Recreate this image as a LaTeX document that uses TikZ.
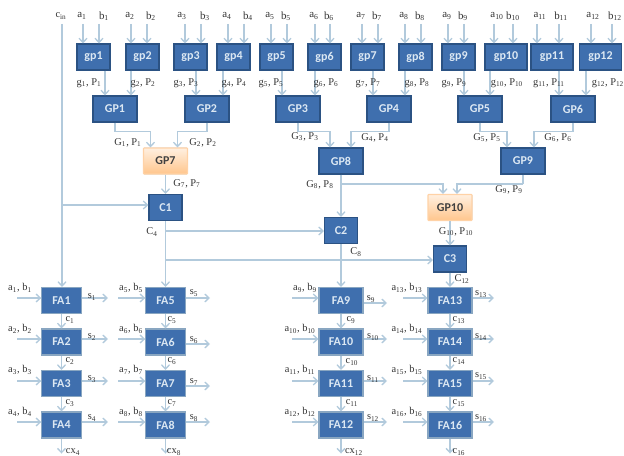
\documentclass[tikz,border=0pt]{standalone}
\usepackage{fontspec}
\setmainfont{Liberation Serif}
\newfontfamily\boxfont{Carlito}
\usetikzlibrary{arrows.meta,calc}
\definecolor{boxblue}{HTML}{3F6FAE}
\definecolor{boxedge}{HTML}{2B5283}
\definecolor{wirecol}{HTML}{B2CADC}
\definecolor{boxtext}{HTML}{DCE8F3}
\newcommand{\subl}[2]{#1\textsubscript{#2}}
\newcommand{\pairl}[4]{#1\textsubscript{#2}, #3\textsubscript{#4}}
\tikzset{
  x=0.75pt,y=-0.75pt,
  bbox/.style={draw=boxedge,line width=0.8pt,fill=boxblue,text=boxtext,font=\boxfont\bfseries\fontsize{9}{10}\selectfont,inner sep=0pt,minimum height=19.5pt},
  sm/.style={bbox,minimum width=24.75pt},
  lg/.style={bbox,minimum width=33pt},
  obox/.style={lg,draw=orange!35,top color=orange!12,bottom color=orange!45,text=black!75,rounded corners=0.5pt},
  fa/.style={bbox,minimum width=29.5pt,draw=wirecol!70!boxedge},
  conn/.style={draw=wirecol,line width=1pt,-{Straight Barb[length=3.2pt,width=6pt]}},
  plainwire/.style={draw=wirecol,line width=1pt},
  lab/.style={font=\fontsize{7.8}{9}\selectfont,inner sep=0pt,text=black!80},
}
\begin{document}
\begin{tikzpicture}
\useasboundingbox (0,0) rectangle (624,456);
% ---- first row
\foreach \n/\x in {gp1/93.5,gp2/142.5,gp3/190.5,gp4/233.5,gp5/276.5,gp6/324.5,gp7/367.5,gp8/415.5,gp9/458.5}
  \node[sm] (\n) at (\x,57) {\n};
\foreach \n/\x in {gp10/506,gp11/552,gp12/600.5}
  \node[bbox,minimum width=31.5pt] (\n) at (\x,57) {\n};
% ---- second row
\foreach \n/\x in {GP1/115,GP2/207,GP3/298,GP4/389,GP5/480,GP6/573}
  \node[lg] (\n) at (\x,109) {\n};
\node[obox] (GP7) at (165.5,161) {GP7};
\node[lg] (GP8) at (341,161) {GP8};
\node[lg] (GP9) at (523,161) {GP9};
\node[obox] (GP10) at (450,207.5) {GP10};
\node[sm] (C1) at (165.5,207.5) {C1};
\node[sm] (C2) at (341,230.5) {C2};
\node[sm] (C3) at (450,259) {C3};
% ---- adders
\foreach \n/\x/\y in {FA1/61.5/300.5,FA2/61.5/342,FA3/61.5/383.5,FA4/61.5/425,
                      FA5/165.5/300.5,FA6/165.5/342,FA7/165.5/383.5,FA8/165.5/425}
  \node[fa] (\n) at (\x,\y) {\n};
\foreach \n/\x/\y in {FA9/341/300.5,FA10/341/342,FA11/341/383.5,FA12/341/425,
                      FA13/450/300.5,FA14/450/342,FA15/450/383.5,FA16/450/425}
  \node[fa,minimum width=33pt] (\n) at (\x,\y) {\n};
% ---- operand inputs
\foreach \i/\n/\ax/\bx/\alx/\blx in {1/gp1/83/99/82/104,2/gp2/131/147/130/151,3/gp3/185/201/182/205,4/gp4/228/244/227/248,
   5/gp5/271/287/270/286,6/gp6/315/330/314/329,7/gp7/362/378/361/377,8/gp8/405/421/404/420,
   9/gp9/448/464/447/463,10/gp10/494/513/497/513,11/gp11/537/559/540/561,12/gp12/591/612/593/615}{
  \node[lab,font=\fontsize{8.2}{9}\selectfont] (la\i) at (\alx,16) {\subl{a}{\i}};
  \node[lab,font=\fontsize{8.2}{9}\selectfont] (lb\i) at (\blx,16) {\subl{b}{\i}};
  \coordinate (ca\i) at (\ax,24);
  \coordinate (cb\i) at (\bx,24);
  \draw[conn] (ca\i) -- (ca\i |- \n.north);
  \draw[conn] (cb\i) -- (cb\i |- \n.north);
}
% ---- gp to GP
\foreach \a/\oa/\b/\ob in {gp1/11.5/GP1/-10,gp2/-11.5/GP1/16,gp3/5.5/GP2/-11,gp4/-10.5/GP2/16,gp5/5.5/GP3/-16,gp6/-9.5/GP3/17,
   gp7/5.5/GP4/-16,gp8/-10.5/GP4/16,gp9/5.5/GP5/-16,gp10/-16/GP5/10,gp11/7/GP6/-14,gp12/-14.5/GP6/13}
  \draw[conn] ([xshift=\oa*0.75pt]\a.south) -- ([xshift=\ob*0.75pt]\b.north);
% ---- GP to next level
\foreach \a/\b/\ob in {GP1/GP7/-15,GP2/GP7/12,GP3/GP8/-11,GP4/GP8/10,GP5/GP9/-16,GP6/GP9/11}
  \draw[conn] (\a.south) |- ([xshift=\ob*0.75pt,yshift=12pt]\b.north) -- ([xshift=\ob*0.75pt]\b.north);
\draw[conn] (GP7.south) -- (C1.north);
\draw[conn] (GP8.south) -- (C2.north);
\draw[conn] (GP10.south) -- (C3.north);
\coordinate (b8) at (341,184);
\coordinate (b9) at (523,184);
\draw[conn] (b8) -| ([xshift=-7*0.75pt]GP10.north);
\draw[plainwire] (GP9.south) -- (b9);
\draw[conn] (b9) -| ([xshift=7*0.75pt]GP10.north);
% ---- carries
\coordinate (cin) at (62,24);
\draw[conn] (cin) -- (cin |- FA1.north);
\coordinate (ci) at (62,205);
\draw[conn] (ci) -- (ci -| C1.west);
\draw[conn] (C1.south) -- (FA5.north);
\coordinate (c4a) at (165.5,231);
\coordinate (c4b) at (165.5,260);
\draw[conn] (c4a) -- (c4a -| C2.west);
\draw[conn] (c4b) -- (c4b -| C3.west);
\draw[conn] (C2.south) -- (FA9.north);
\draw[conn] (C3.south) -- (FA13.north);
\foreach \a/\b in {FA1/FA2,FA2/FA3,FA3/FA4,FA5/FA6,FA6/FA7,FA7/FA8,FA9/FA10,FA10/FA11,FA11/FA12,FA13/FA14,FA14/FA15,FA15/FA16}
  \draw[conn] (\a.south) -- (\b.north);
\foreach \n in {FA4,FA8,FA12,FA16}{
  \coordinate (e\n) at ($(\n.south)+(0,15)$);
  \draw[conn] (\n.south) -- (e\n);
}
% ---- adder side wires
\foreach \n/\lx/\oy/\ox/\oyy in {FA1/17/298/108/298,FA2/17/339/108/339,FA3/17/381/108/381,FA4/17/422/108/422,
   FA5/118/298/210/298,FA6/118/339/210/344,FA7/118/381/210/386,FA8/118/422/210/422,
   FA9/292/298/387/303,FA10/292/339/387/339,FA11/292/381/387/381,FA12/292/422/387/422,
   FA13/403/298/494/298,FA14/403/339/494/339,FA15/403/381/494/381,FA16/403/422/494/422}{
  \coordinate (i\n) at (\lx,\oy);
  \coordinate (o\n) at (\ox,\oyy);
  \draw[conn] (i\n) -- (i\n -| \n.west);
  \draw[conn] (o\n -| \n.east) -- (o\n);
}
% ---- labels
\node[lab] (lcin) at (61,16) {c\textsubscript{in}};
\foreach \i/\x in {1/89,2/143,3/186,4/234,5/271,6/326,7/368,8/417,9/454,10/507,11/549,12/608}
  \node[lab] (lg\i) at (\x,83) {\pairl{g}{\i}{P}{\i}};
\foreach \i/\x/\y in {1/128/143,2/203/143,3/305/137,4/375/138,5/487/138,6/558/138,7/187/184,8/320/185,9/509/190,10/456/232}
  \node[lab] (lG\i) at (\x,\y) {\pairl{G}{\i}{P}{\i}};
\node[lab] (lc4) at (152,232) {\subl{C}{4}};
\node[lab] (lc8) at (356,252) {\subl{C}{8}};
\node[lab] (lc12) at (462,279) {\subl{C}{12}};
\foreach \i/\x/\y in {1/20/288,2/20/329,3/20/370,4/20/412,5/131/288,6/131/329,7/131/370,8/131/412,
   9/305/288,10/300/329,11/300/370,12/300/412,13/407/288,14/407/329,15/407/370,16/407/412}
  \node[lab] (lab\i) at (\x,\y) {\pairl{a}{\i}{b}{\i}};
\foreach \i/\x/\y in {1/92/297,2/92/337,3/92/379,4/92/418,5/194/293,6/194/340,7/194/382,8/194/418,
   9/371/299,10/373/337,11/373/379,12/373/418,13/481/294,14/481/337,15/481/376,16/481/418}
  \node[lab] (ls\i) at (\x,\y) {\subl{s}{\i}};
\foreach \i/\x/\y in {1/70/320,2/70/361,3/70/403,5/172/320,6/172/361,7/172/403,9/351/320,10/352/362,11/352/403,13/459/320,14/459/361,15/459/403}
  \node[lab] (lcc\i) at (\x,\y) {\subl{c}{\i}};
\node[lab] (lx4) at (73,452) {\subl{cx}{4}};
\node[lab] (lx8) at (174,452) {\subl{cx}{8}};
\node[lab] (lx12) at (354,452) {\subl{cx}{12}};
\node[lab] (lx16) at (459,452) {\subl{c}{16}};
\end{tikzpicture}
\end{document}
